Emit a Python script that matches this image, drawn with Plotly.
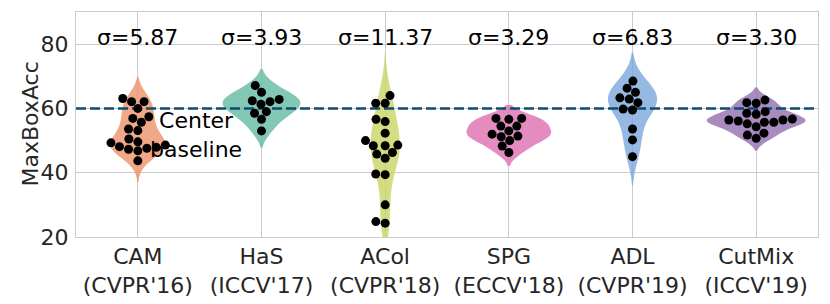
import numpy as np
import plotly.graph_objects as go

# ---------------- data ----------------
methods = ["CAM", "HaS", "ACol", "SPG", "ADL", "CutMix"]
venues = ["(CVPR'16)", "(ICCV'17)", "(CVPR'18)", "(ECCV'18)", "(CVPR'19)", "(ICCV'19)"]
sigma_labels = ["σ=5.87", "σ=3.93", "σ=11.37", "σ=3.29", "σ=6.83", "σ=3.30"]

cam = [63.1, 62.1, 62.1, 60.0, 57.4, 56.9, 55.7, 53.6, 53.1, 50.5, 49.6, 49.3,
       48.1, 47.3, 46.8, 47.6, 47.9, 48.6, 43.7]
has = [67.1, 65.0, 62.1, 61.3, 62.4, 62.8, 58.5, 59.0, 56.6, 53.0]
acol = [64.0, 61.6, 61.6, 56.6, 55.9, 52.3, 50.0, 48.4, 48.4, 48.6, 45.8, 46.3,
        44.5, 39.6, 39.4, 30.0, 24.3, 24.8]
spg = [56.9, 56.6, 56.9, 54.5, 54.5, 53.0, 52.0, 51.2, 51.4, 50.0, 48.3, 46.3]
adl = [68.5, 66.3, 65.0, 63.3, 62.9, 61.8, 59.8, 59.5, 53.6, 50.2, 45.0]
cutmix = [61.8, 61.6, 62.6, 58.2, 58.5, 59.0, 56.4, 56.1, 56.7, 55.7, 55.7, 56.4,
          55.2, 54.3, 51.7, 50.7, 52.3]
series = [cam, has, acol, spg, adl, cutmix]

center_baseline = 60.0
y_ticks = [20, 40, 60, 80]
y_title = "MaxBoxAcc"

colors = ["rgba(236,146,105,0.8)", "rgba(99,186,161,0.8)", "rgba(202,212,99,0.8)",
          "rgba(221,111,176,0.8)", "rgba(124,167,221,0.8)", "rgba(146,111,176,0.8)"]

# ---------------- layout constants ----------------
# the page body adds an 8px offset, so the figure is sized to end at the window edge
W, H = 822, 296
ML, MR, MT, MB = 68, 12, 4, 67
X_RANGE = [-0.5, 5.5]
Y_RANGE = [20, 90]
px_x = (W - ML - MR) / (X_RANGE[1] - X_RANGE[0])
px_y = (H - MT - MB) / (Y_RANGE[1] - Y_RANGE[0])
DOT = 9.0
FS = 22
MAX_W = 0.8


def beeswarm(vals, d):
    """Seaborn-like swarm offsets (pixels)."""
    order = np.argsort(vals)
    ys = np.asarray(vals, float)[order] * px_y
    placed = []
    offs = np.zeros(len(ys))
    for k, y in enumerate(ys):
        neigh = [(px, py) for (px, py) in placed if abs(py - y) < d]
        cands = [0.0]
        for (px, py) in neigh:
            dy = y - py
            dx = np.sqrt(max(d * d - dy * dy, 0.0)) * 1.05
            cands += [px - dx, px + dx]
        cands = sorted(cands, key=lambda c: abs(c))
        chosen = cands[-1]
        for c in cands:
            if all((c - px) ** 2 + (y - py) ** 2 >= (d * 0.999) ** 2 for (px, py) in neigh):
                chosen = c
                break
        placed.append((chosen, y))
        offs[k] = chosen
    result = np.zeros(len(ys))
    result[order] = offs
    return result


def kde_peak(v, bw):
    grid = np.linspace(v.min() - 2 * bw, v.max() + 2 * bw, 400)
    dens = np.exp(-0.5 * ((grid[:, None] - v[None, :]) / bw) ** 2).sum(1)
    dens /= (len(v) * bw * np.sqrt(2 * np.pi))
    return dens.max()


bws, peaks = [], []
for vals in series:
    v = np.asarray(vals, float)
    bw = np.std(v, ddof=1) * len(v) ** (-0.2)
    bws.append(bw)
    peaks.append(kde_peak(v, bw))
gmax = max(peaks)

fig = go.Figure()

for i, vals in enumerate(series):
    fig.add_trace(go.Violin(
        x0=i, y=vals, orientation="v", width=MAX_W * peaks[i] / gmax,
        fillcolor=colors[i], line=dict(width=0, color=colors[i]),
        points=False, spanmode="soft", bandwidth=bws[i], scalemode="width",
        showlegend=False, hoverinfo="skip",
    ))

fig.add_trace(go.Scatter(
    x=X_RANGE, y=[center_baseline, center_baseline], mode="lines",
    line=dict(color="#0f4a70", width=2.5, dash="10px,4px"),
    showlegend=False, hoverinfo="skip",
))

for i, vals in enumerate(series):
    off = beeswarm(vals, DOT)
    fig.add_trace(go.Scatter(
        x=i + off / px_x, y=vals, mode="markers",
        marker=dict(color="black", size=DOT, line=dict(width=0)),
        showlegend=False, hoverinfo="skip",
    ))

for i, s in enumerate(sigma_labels):
    fig.add_annotation(x=i, y=82.2, text=s, showarrow=False,
                       font=dict(size=FS, color="black"), yanchor="middle")

fig.add_annotation(x=0.47, y=51.7, text="Center<br>baseline", showarrow=False,
                   font=dict(size=FS, color="black"), align="center")

# y-axis title
fig.add_annotation(x=0, y=0.5, xref="paper", yref="paper", text=y_title,
                   textangle=-90, showarrow=False, xanchor="center", yanchor="middle",
                   xshift=-46, font=dict(size=FS, color="#262626"))

fig.update_layout(
    width=W, height=H,
    margin=dict(l=ML, r=MR, t=MT, b=MB, autoexpand=False),
    paper_bgcolor="white", plot_bgcolor="white",
    violinmode="overlay",
    font=dict(family="DejaVu Sans", color="#262626", size=FS),
)
fig.update_xaxes(
    range=X_RANGE, type="linear", automargin=False,
    tickvals=list(range(len(methods))),
    ticktext=[f"{m}<br>{v}" for m, v in zip(methods, venues)],
    showgrid=True, gridcolor="#cccccc", gridwidth=1, zeroline=False,
    showline=True, linecolor="#cccccc", linewidth=1, mirror=True, ticks="", ticklen=0,
    tickfont=dict(size=FS, color="#262626"),
)
fig.update_yaxes(
    range=Y_RANGE, tickvals=y_ticks, automargin=False,
    showgrid=True, gridcolor="#cccccc", gridwidth=1, zeroline=False,
    showline=True, linecolor="#cccccc", linewidth=1, mirror=True, ticks="", ticklen=0,
    tickfont=dict(size=FS, color="#262626"), ticklabelstandoff=2,
)

fig.write_html("out.html")
